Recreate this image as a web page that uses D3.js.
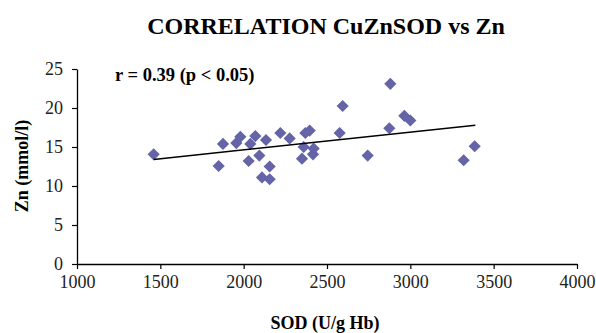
<!DOCTYPE html>
<html>
<head>
<meta charset="utf-8">
<script src="https://cdn.jsdelivr.net/npm/d3@7"></script>
<style>
  body { margin: 0; background: #fff; }
</style>
</head>
<body>
<svg id="chart" width="596" height="333"></svg>
<script>
// values
const sodValues = [1460, 1850, 1876, 1956, 1980, 2030, 2040, 2070, 2094, 2110,
                   2134, 2156, 2156, 2220, 2276, 2350, 2360, 2370, 2396, 2416,
                   2420, 2576, 2594, 2744, 2874, 2880, 2964, 3000, 3320, 3386];
const znValues = [14.06, 12.56, 15.4, 15.5, 16.3, 13.2, 15.4, 16.4, 13.9, 11.1,
                  15.9, 10.86, 12.5, 16.8, 16.1, 13.5, 15.0, 16.8, 17.1, 14.06,
                  14.8, 16.8, 20.26, 13.9, 17.4, 23.1, 19.0, 18.4, 13.3, 15.1];
const trendSod = [1460, 3390];
const trendZn = [13.4, 17.8];
const xTicks = [1000, 1500, 2000, 2500, 3000, 3500, 4000];
const yTicks = [0, 5, 10, 15, 20, 25];

const serif = "'Liberation Serif', 'Times New Roman', 'DejaVu Serif', serif";

const svg = d3.select("#chart").attr("font-family", serif);

// scales - plot area found by measuring the reference
const x = d3.scaleLinear().domain([1000, 4000]).range([77, 577]);
const y = d3.scaleLinear().domain([0, 25]).range([264, 69]);

// title
svg.append("text")
    .attr("x", 326).attr("y", 34)
    .attr("text-anchor", "middle")
    .attr("font-family", serif)
    .attr("font-size", 24).attr("font-weight", "bold")
    .text("CORRELATION CuZnSOD vs Zn");

// x axis
const xAxis = svg.append("g")
    .attr("transform", `translate(0,${y(0)})`)
    .call(d3.axisBottom(x).tickValues(xTicks).tickFormat(d3.format("d"))
        .tickSize(5).tickPadding(6).tickSizeOuter(0));
xAxis.attr("font-family", serif);
xAxis.select(".domain").attr("stroke", "#000").attr("stroke-width", 1.3);
xAxis.selectAll(".tick line").attr("stroke", "#000").attr("stroke-width", 1.2);
xAxis.selectAll("text")
    .attr("font-size", 18)
    .attr("font-family", serif)
    .attr("fill", "#222");

// y axis
const yAxis = svg.append("g")
    .attr("transform", `translate(${x(1000)},0)`)
    .call(d3.axisLeft(y).tickValues(yTicks).tickSize(5).tickPadding(9).tickSizeOuter(0));
yAxis.attr("font-family", serif);
yAxis.select(".domain").attr("stroke", "#000").attr("stroke-width", 1.3);
yAxis.selectAll(".tick line").attr("stroke", "#000").attr("stroke-width", 1.2);
yAxis.selectAll("text")
    .attr("font-size", 18)
    .attr("font-family", serif)
    .attr("fill", "#222");

// axis titles
svg.append("text")
    .attr("x", 325).attr("y", 329)
    .attr("text-anchor", "middle")
    .attr("font-family", serif)
    .attr("font-size", 18).attr("font-weight", "bold")
    .text("SOD (U/g Hb)");

svg.append("text")
    .attr("transform", "translate(28,166) rotate(-90)")
    .attr("text-anchor", "middle")
    .attr("font-family", serif)
    .attr("font-size", 18).attr("font-weight", "bold")
    .text("Zn (mmol/l)");

// correlation label
svg.append("text")
    .attr("x", 115).attr("y", 81)
    .attr("font-family", serif)
    .attr("font-size", 18.5).attr("font-weight", "bold")
    .text("r = 0.39 (p < 0.05)");

// points (diamonds)
const points = sodValues.map((s, i) => ({ sod: s, zn: znValues[i] }));
const diamond = d3.symbol().type(d3.symbolSquare).size(74);
svg.append("g")
    .selectAll("path")
    .data(points)
    .join("path")
    .attr("d", diamond)
    .attr("transform", d => `translate(${x(d.sod)},${y(d.zn)}) rotate(45)`)
    .attr("fill", "#6464a6");

// trend line
const trend = trendSod.map((s, i) => [s, trendZn[i]]);
svg.append("path")
    .datum(trend)
    .attr("d", d3.line().x(d => x(d[0])).y(d => y(d[1])))
    .attr("stroke", "#000")
    .attr("stroke-width", 1.5)
    .attr("fill", "none");
</script>
</body>
</html>
